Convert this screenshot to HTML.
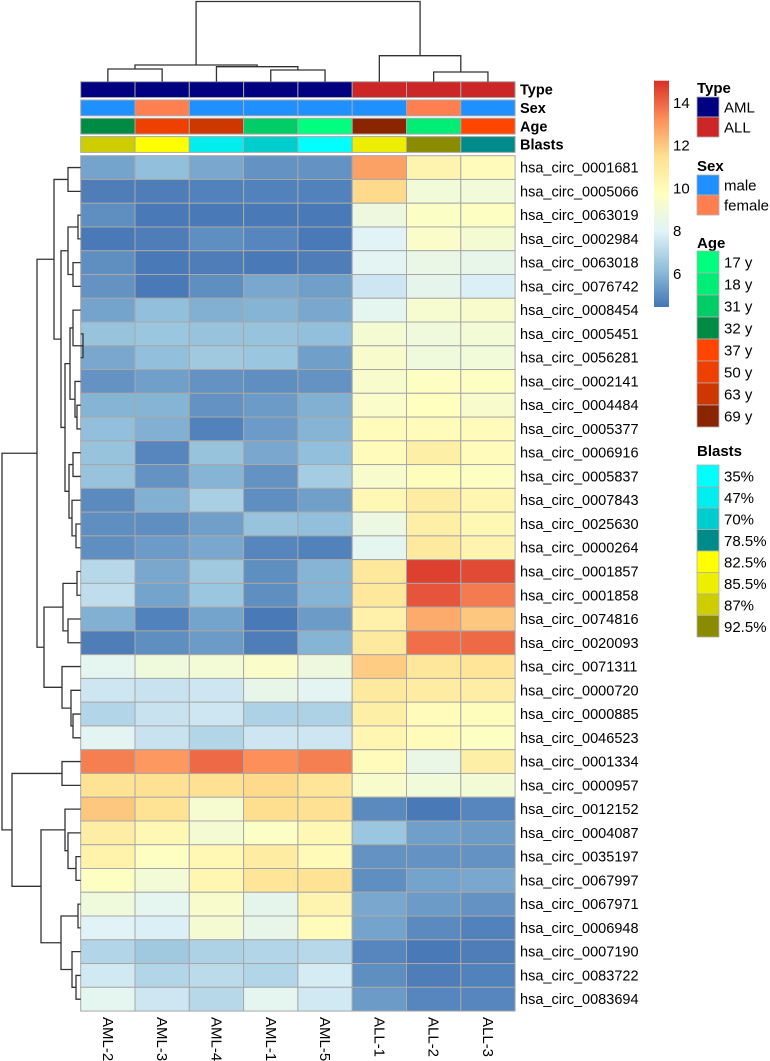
<!DOCTYPE html>
<html><head><meta charset="utf-8">
<style>
html,body{margin:0;padding:0;background:#fff;}
svg{display:block;font-family:"Liberation Sans",Arial,sans-serif;}
</style></head>
<body>
<svg id="chart" width="770" height="1061" viewBox="0 0 770 1061" xmlns="http://www.w3.org/2000/svg"></svg>
<script>
// ---- data ----
const samples = ["AML-2","AML-3","AML-4","AML-1","AML-5","ALL-1","ALL-2","ALL-3"];
const genes = ["hsa_circ_0001681","hsa_circ_0005066","hsa_circ_0063019","hsa_circ_0002984","hsa_circ_0063018","hsa_circ_0076742","hsa_circ_0008454","hsa_circ_0005451","hsa_circ_0056281","hsa_circ_0002141","hsa_circ_0004484","hsa_circ_0005377","hsa_circ_0006916","hsa_circ_0005837","hsa_circ_0007843","hsa_circ_0025630","hsa_circ_0000264","hsa_circ_0001857","hsa_circ_0001858","hsa_circ_0074816","hsa_circ_0020093","hsa_circ_0071311","hsa_circ_0000720","hsa_circ_0000885","hsa_circ_0046523","hsa_circ_0001334","hsa_circ_0000957","hsa_circ_0012152","hsa_circ_0004087","hsa_circ_0035197","hsa_circ_0067997","hsa_circ_0067971","hsa_circ_0006948","hsa_circ_0007190","hsa_circ_0083722","hsa_circ_0083694"];
const expr = [
[5.5,6.2,5.6,5.1,5.1,12.8,10.3,9.9],
[4.6,4.6,4.7,4.7,4.7,11.6,8.9,8.9],
[5.0,4.5,4.5,4.5,4.5,8.7,9.5,9.6],
[4.5,4.6,5.0,4.8,4.5,8.0,9.4,9.1],
[5.0,4.5,4.6,4.5,4.6,8.1,8.5,8.4],
[5.1,4.5,5.0,5.6,5.4,7.5,8.3,7.8],
[5.5,6.2,5.8,5.9,5.6,8.2,9.2,9.3],
[6.3,6.4,6.3,6.3,6.2,9.1,8.8,9.0],
[5.6,6.2,6.5,6.4,5.4,9.3,8.8,8.9],
[5.1,5.4,5.1,5.0,5.1,9.3,9.6,9.6],
[5.9,5.9,5.1,5.3,5.8,9.4,9.7,9.3],
[6.2,5.8,4.7,5.3,5.9,9.9,9.9,9.9],
[6.3,4.8,6.3,5.6,6.2,9.9,10.6,9.9],
[6.3,5.1,5.9,5.1,6.6,9.3,9.8,9.6],
[4.9,5.8,6.7,5.0,5.4,10.1,10.8,10.2],
[5.0,5.0,5.4,6.3,6.2,8.6,10.6,10.1],
[5.0,5.3,5.6,4.8,4.7,8.2,10.9,10.3],
[7.0,5.6,6.5,5.0,5.9,11.0,14.7,14.5],
[7.2,5.5,6.4,5.0,5.9,11.0,14.3,13.6],
[5.8,4.7,5.5,4.5,5.3,10.5,12.6,12.0],
[4.6,5.0,5.3,4.6,5.9,10.9,13.8,13.9],
[8.2,8.8,9.0,9.4,8.7,11.9,11.1,11.2],
[7.5,7.4,7.5,8.4,8.1,10.9,10.8,10.7],
[6.9,7.4,7.5,6.8,6.8,10.6,9.9,9.8],
[8.1,7.4,6.9,7.5,7.5,10.2,9.9,9.6],
[13.5,13.0,13.9,13.2,13.5,9.9,8.5,10.6],
[11.3,11.4,11.4,11.6,11.2,9.3,8.9,9.0],
[12.0,11.3,9.2,11.5,11.4,4.9,4.5,4.8],
[10.7,10.1,9.1,9.5,10.1,6.4,5.4,5.3],
[10.4,9.6,10.1,10.8,10.0,5.1,5.1,5.1],
[9.6,9.0,10.2,11.2,11.3,5.0,5.5,5.6],
[8.8,8.2,9.3,8.3,10.3,5.6,5.3,5.1],
[8.0,7.8,9.1,8.4,9.9,5.5,4.9,4.7],
[6.9,6.5,6.8,6.9,7.0,4.8,4.5,4.6],
[7.6,6.9,7.1,6.9,7.7,5.0,4.6,4.7],
[8.2,7.5,7.0,8.2,7.6,5.3,4.8,4.8]];
const sampleType = ["AML","AML","AML","AML","AML","ALL","ALL","ALL"];
const sampleSex = ["male","female","male","male","male","male","female","male"];
const sampleAge = ["32 y","50 y","63 y","31 y","17 y","69 y","18 y","37 y"];
const sampleBlasts = ["87%","82.5%","47%","70%","35%","85.5%","92.5%","78.5%"];
const colorTicks = [6,8,10,12,14];
const typeLevels = ["AML","ALL"];
const sexLevels = ["male","female"];
const ageLevels = ["17 y","18 y","31 y","32 y","37 y","50 y","63 y","69 y"];
const blastLevels = ["35%","47%","70%","78.5%","82.5%","85.5%","87%","92.5%"];
// dendrograms: [left,right,height]; leaves are indices
const colTree = [[[0,1,69],[2,[3,4,70],66.7],65],[5,[6,7,72],55.7],1.5];
const rowTree = [
 [[[0,1,68],[[[2,3,78],[4,5,73],68],[[[6,[7,8,83],73],[9,[10,11,77],75],70],[[12,13,73],[14,[15,16,76],72],69],65],61],54],
  [[[17,18,77],[19,20,68],63],[21,[22,[23,24,73],71],62],44],37],
 [[25,26,62],[[27,[28,[29,30,76],68],65],[[31,32,78],[33,[34,35,76],72],61],41],12],2];

// ---- scales ----
const X0=80.7, CW=54.3, Y0=155.7, RH=23.76;
const colX = j => X0 + CW*j;
const rowY = i => Y0 + RH*i;
const VMIN=4.4, VMAX=15.0;
const pal=["#4575B4","#91BFDB","#E0F3F8","#FFFFBF","#FEE090","#FC8D59","#D73027"];
function hex(c){return [1,3,5].map(k=>parseInt(c.substr(k,2),16));}
function colorOf(v){
  let t=Math.max(0,Math.min(1,(v-VMIN)/(VMAX-VMIN)))*(pal.length-1);
  let k=Math.min(pal.length-2,Math.floor(t)), f=t-k;
  let a=hex(pal[k]), b=hex(pal[k+1]);
  return "rgb("+a.map((x,i)=>Math.round(x+(b[i]-x)*f)).join(",")+")";
}
const typeCol={"AML":"#000080","ALL":"#CD2626"};
const sexCol={"male":"#1E90FF","female":"#FF7F50"};
const ageCol={"17 y":"#00FF7F","18 y":"#00EE76","31 y":"#00CD66","32 y":"#008B45","37 y":"#FF4500","50 y":"#EE4000","63 y":"#CD3700","69 y":"#8B2500"};
const blastCol={"35%":"#00FFFF","47%":"#00EEEE","70%":"#00CDCD","78.5%":"#008B8B","82.5%":"#FFFF00","85.5%":"#EEEE00","87%":"#CDCD00","92.5%":"#8B8B00"};

const NS="http://www.w3.org/2000/svg";
const svg=document.getElementById("chart");
function mk(tag,attrs,parent){const e=document.createElementNS(NS,tag);for(const k in attrs)e.setAttribute(k,attrs[k]);(parent||svg).appendChild(e);return e;}

// ---- heatmap cells ----
const gCells=mk("g",{});


expr.forEach((row,i)=>row.forEach((v,j)=>{
  const r=mk("rect",{x:colX(j),y:rowY(i),width:CW,height:RH,fill:colorOf(v),stroke:"#a8a8a8","stroke-width":1},gCells);
  
  
}));

// ---- annotation rows ----
const annRows=[["Type",sampleType,typeCol,81.7],["Sex",sampleSex,sexCol,100],["Age",sampleAge,ageCol,118.3],["Blasts",sampleBlasts,blastCol,136.6]];
annRows.forEach(([name,vals,cmap,y])=>{
  vals.forEach((v,j)=>{
    const r=mk("rect",{x:colX(j),y:y,width:CW,height:15.8,fill:cmap[v],stroke:"#a8a8a8","stroke-width":1});
    
    
  });
  const t=mk("text",{x:520,y:y+13,"font-size":14.5,"font-weight":"bold",fill:"#000"});
  t.textContent=name;
  
  
});

// ---- row labels ----
genes.forEach((g,i)=>{
  const t=mk("text",{x:520,y:rowY(i)+RH/2+5,"font-size":14.5,fill:"#000"});
  t.textContent=g;
  
  
});
// ---- column labels ----
samples.forEach((s,j)=>{
  const cx=colX(j)+CW/2;
  const t=mk("text",{x:0,y:0,"font-size":15,fill:"#000",transform:`translate(${cx-5},1017) rotate(90)`});
  t.textContent=s;
  
  
});

// ---- dendrograms ----
const dStyle={stroke:"#333",fill:"none","stroke-width":1.3};
function drawCol(node){
  if(typeof node==="number") return [colX(node)+CW/2, 81.7];
  const a=drawCol(node[0]), b=drawCol(node[1]), h=node[2];
  const p=mk("path",Object.assign({d:`M${a[0]},${a[1]}V${h}H${b[0]}V${b[1]}`},dStyle));
  
  
  return [(a[0]+b[0])/2,h];
}
drawCol(colTree);
function drawRow(node){
  if(typeof node==="number") return [80.7, rowY(node)+RH/2];
  const a=drawRow(node[0]), b=drawRow(node[1]), h=node[2];
  const p=mk("path",Object.assign({d:`M${a[0]},${a[1]}H${h}V${b[1]}H${b[0]}`},dStyle));
  
  
  return [h,(a[1]+b[1])/2];
}
drawRow(rowTree);

// ---- color bar ----
const CB_T=80.7, CB_B=307, CB_X=654, CB_W=15;
const cbY=v=>CB_B-(v-VMIN)/(VMAX-VMIN)*(CB_B-CB_T);
const defs=mk("defs",{});
const grad=mk("linearGradient",{id:"cbg",x1:0,y1:1,x2:0,y2:0},defs);
pal.forEach((c,k)=>mk("stop",{offset:k/(pal.length-1),"stop-color":c},grad));
const cb=mk("rect",{x:CB_X,y:CB_T,width:CB_W,height:CB_B-CB_T,fill:"url(#cbg)"});


colorTicks.forEach(v=>{
  const t=mk("text",{x:673,y:cbY(v)+6,"font-size":15,fill:"#000"});
  t.textContent=v;
  
  
});

// ---- legends ----
function legend(title,levels,cmap,titleY,boxY,pitch){
  const tt=mk("text",{x:697,y:titleY,"font-size":15,"font-weight":"bold",fill:"#000"});
  tt.textContent=title;
  
  
  levels.forEach((l,k)=>{
    const y=boxY+pitch*k;
    const r=mk("rect",{x:697,y:y,width:22,height:pitch,fill:cmap[l],stroke:"#b0b0b0","stroke-width":0.8});
    
    
    const t=mk("text",{x:724,y:y+pitch/2+5.5,"font-size":15,fill:"#000"});
    t.textContent=l;
    
    
  });
}
legend("Type",typeLevels,typeCol,93,97,20);
legend("Sex",sexLevels,sexCol,171,175,20);
legend("Age",ageLevels,ageCol,248,251,22);
legend("Blasts",blastLevels,blastCol,456,465,21.5);
</script>
</body></html>
